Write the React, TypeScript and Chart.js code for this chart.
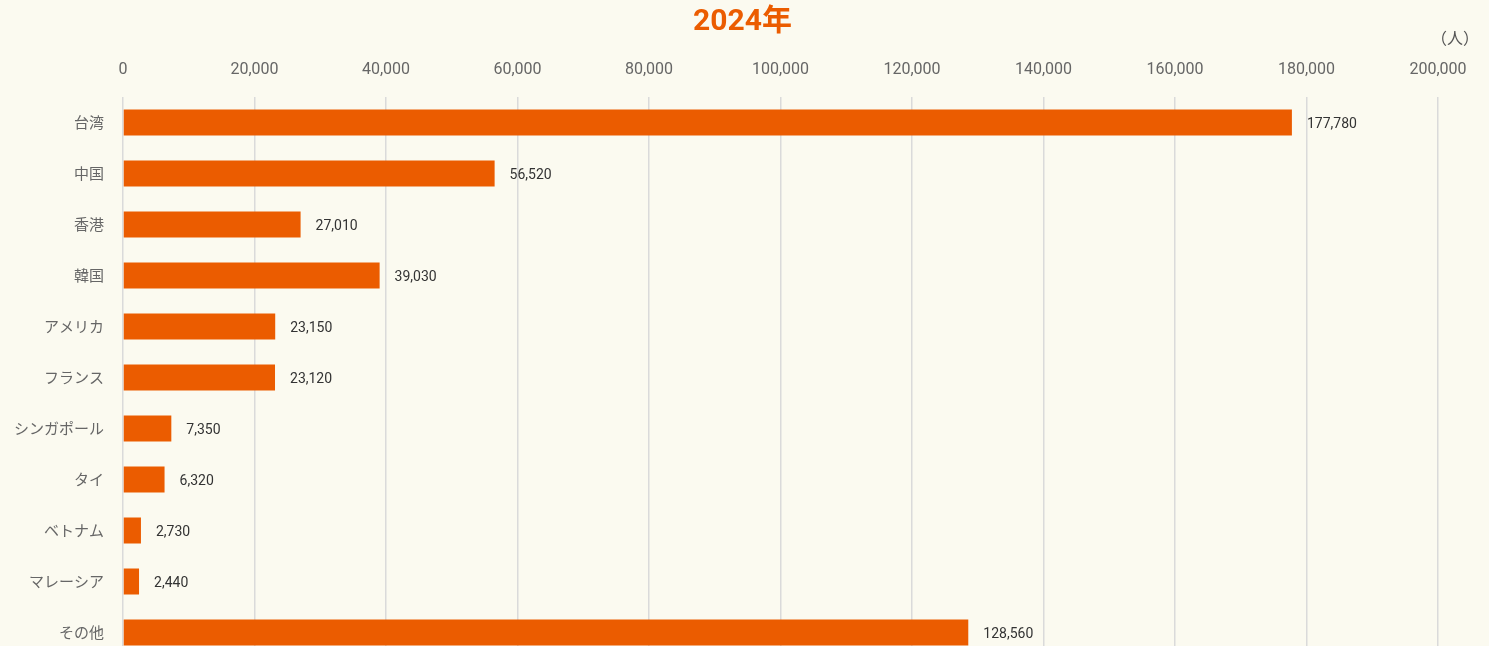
import React, { useEffect, useRef } from "react";
import { Chart, registerables } from "chart.js";

Chart.register(...registerables);

const categories = ["台湾", "中国", "香港", "韓国", "アメリカ", "フランス", "シンガポール", "タイ", "ベトナム", "マレーシア", "その他"];
const visitors = [177780, 56520, 27010, 39030, 23150, 23120, 7350, 6320, 2730, 2440, 128560];
const chartTitle = "2024年";
const unitLabel = "（人）";
const xMax = 200000;
const xStep = 20000;

const BG = "#FBFAF0";
const ORANGE = "#EB5C00";

export default function App() {
  const ref = useRef<HTMLCanvasElement | null>(null);

  useEffect(() => {
    if (!ref.current) return;
    const valueLabels = {
      id: "valueLabels",
      afterDatasetsDraw(chart: any) {
        const ctx = chart.ctx;
        const meta = chart.getDatasetMeta(0);
        ctx.save();
        ctx.font = "14px Roboto, 'Noto Sans', sans-serif";
        ctx.fillStyle = "#333333";
        ctx.textAlign = "left";
        ctx.textBaseline = "middle";
        meta.data.forEach((bar: any, i: number) => {
          const v = chart.data.datasets[0].data[i] as number;
          ctx.fillText(v.toLocaleString("en-US"), bar.x + 15, bar.y + 2);
        });
        ctx.restore();
      },
    };
    const headerPlugin = {
      id: "headerText",
      afterDraw(chart: any) {
        const ctx = chart.ctx;
        ctx.save();
        ctx.textAlign = "center";
        ctx.textBaseline = "middle";
        ctx.font = "bold 30px Roboto, 'Noto Sans CJK JP', sans-serif";
        ctx.fillStyle = ORANGE;
        ctx.fillText(chartTitle, chart.width / 2 - 2, 22);
        ctx.font = "16px 'Noto Sans CJK JP', sans-serif";
        ctx.fillStyle = "#555555";
        ctx.fillText(unitLabel, chart.chartArea.right + 17, 38);
        ctx.restore();
      },
    };
    const chart = new Chart(ref.current, {
      type: "bar",
      data: {
        labels: categories,
        datasets: [
          {
            data: visitors,
            backgroundColor: ORANGE,
            borderWidth: 0,
            barPercentage: 0.51,
            categoryPercentage: 1,
          },
        ],
      },
      options: {
        indexAxis: "y",
        animation: false,
        responsive: true,
        maintainAspectRatio: false,
        layout: { padding: { left: 0, right: 51, top: 59, bottom: 2 } },
        plugins: {
          legend: { display: false },
          tooltip: { enabled: false },
          title: { display: false },
        },
        scales: {
          x: {
            position: "top",
            min: 0,
            max: xMax,
            ticks: {
              stepSize: xStep,
              color: "#666666",
              font: { size: 16, family: "Roboto, sans-serif" },
              padding: 17,
              callback: (v: any) => Number(v).toLocaleString("en-US"),
            },
            grid: { color: "#DADADA", lineWidth: 1.5, drawTicks: false },
            border: { display: false },
            afterFit: (scale: any) => {
              scale.height = 38;
            },
          },
          y: {
            ticks: {
              color: "#666666",
              font: { size: 15, family: "'Noto Sans CJK JP', sans-serif" },
              padding: 19,
            },
            grid: { display: false, drawTicks: false },
            border: { display: false },
            afterFit: (scale: any) => {
              scale.width = 123;
              scale.paddingTop = 0;
              scale.paddingBottom = 0;
            },
          },
        },
      },
      plugins: [valueLabels, headerPlugin],
    });
    return () => chart.destroy();
  }, []);

  return (
    <div style={{ position: "fixed", left: 0, top: 0, right: 0, bottom: 0, overflow: "hidden", background: BG }}>
      <div style={{ position: "relative", width: 1489, height: 660 }}>
        <canvas ref={ref} />
      </div>
    </div>
  );
}
